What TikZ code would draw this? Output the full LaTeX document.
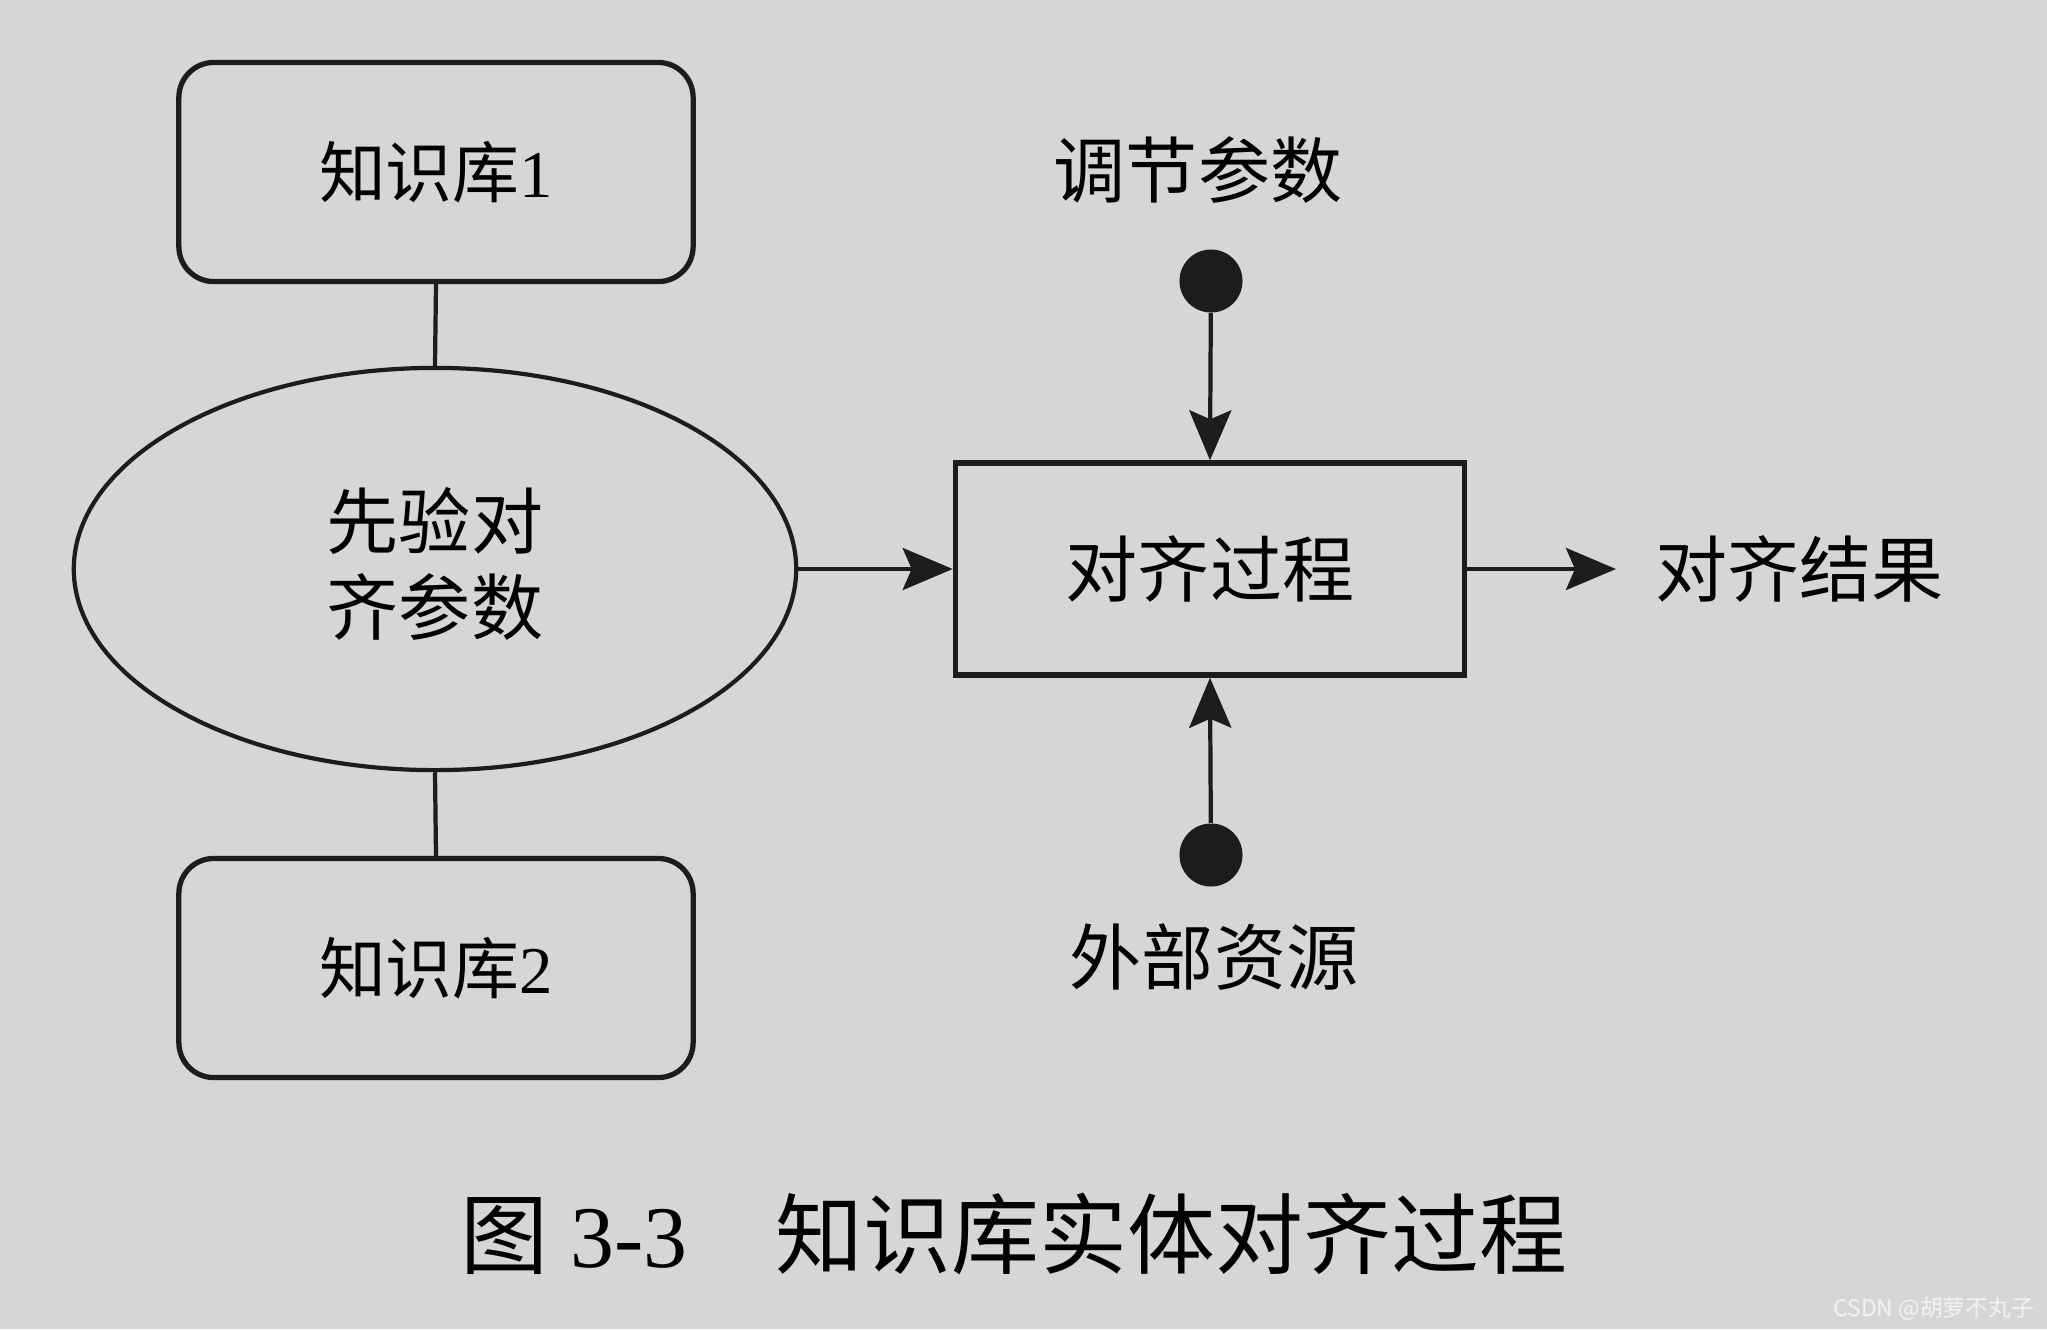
\documentclass[tikz,border=0pt]{standalone}
\usepackage{fontspec}
\setmainfont{Liberation Serif}
\newfontfamily\cjk{Noto Sans CJK SC}
\usetikzlibrary{arrows.meta,shapes.geometric}
\definecolor{bg}{HTML}{D6D6D6}
\definecolor{ink}{HTML}{1C1C1C}
\definecolor{wm}{HTML}{F2F2F2}
\begin{document}
\begin{tikzpicture}[x=0.01cm,y=-0.01cm,
  kbbox/.style={draw=ink, line width=1.5pt, rounded corners=0.35cm,
    minimum width=5.14cm, minimum height=2.19cm, inner sep=0pt,
    font=\fontsize{19}{23}\selectfont},
  priorell/.style={draw=ink, line width=1.2pt, ellipse,
    minimum width=7.22cm, minimum height=4.02cm, inner sep=0pt, align=center,
    font=\cjk\fontsize{20.5}{24.5}\selectfont},
  procbox/.style={draw=ink, line width=1.5pt,
    minimum width=5.09cm, minimum height=2.12cm, inner sep=0pt,
    font=\cjk\fontsize{20.5}{24}\selectfont},
  blackdot/.style={circle, fill=ink, minimum size=0.63cm, inner sep=0pt},
  lbl/.style={inner sep=0pt, font=\cjk\fontsize{20.5}{24}\selectfont},
  link/.style={draw=ink, line width=1.2pt},
  arr/.style={draw=ink, line width=1.2pt, -{Stealth[length=5mm,width=4.2mm,inset=0.9mm]}}
]
\fill[bg] (0,0) rectangle (2047,1329);
\useasboundingbox (0,0) rectangle (2047,1329);

\node[kbbox] (kb1) at (436,172) {{\cjk 知识库}1};
\node[kbbox] (kb2) at (436,968) {{\cjk 知识库}2};
\node[priorell] (prior) at (435,569) {};
\node[lbl, align=center, font=\cjk\fontsize{20.5}{24.5}\selectfont] (priortxt) at (435,564) {先验对\\齐参数};
\node[procbox] (proc) at (1210,569) {对齐过程};
\node[blackdot] (dtop) at (1211,281) {};
\node[blackdot] (dbot) at (1211,855) {};
\node[lbl] (ltop) at (1198,170) {调节参数};
\node[lbl] (lbot) at (1214,957) {外部资源};
\coordinate (resend) at (1616,569);
\node[lbl, anchor=west] (res) at (1655,569) {对齐结果};

\draw[link] (kb1.south) -- (prior.north);
\draw[link] (prior.south) -- (kb2.north);
\draw[arr] (prior.east) -- (proc.west);
\draw[arr] (dtop) -- (proc.north);
\draw[arr] (dbot) -- (proc.south);
\draw[arr] (proc.east) -- (resend);

\node[anchor=west, inner sep=0pt, font=\fontsize{25}{29}\selectfont] (cap) at (460,1234)
  {{\cjk 图}\hspace{0.25em}3-3\hspace{1em}{\cjk 知识库实体对齐过程}};
\node[anchor=east, inner sep=0pt, text=wm, font=\cjk\fontsize{6.5}{8}\selectfont] (mark) at (2035,1309) {CSDN @胡萝不丸子};
\end{tikzpicture}
\end{document}
